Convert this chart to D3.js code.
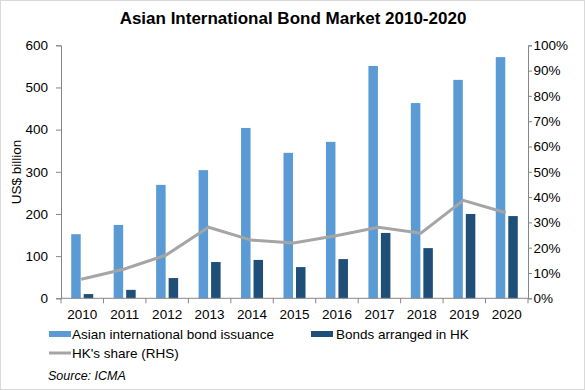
<!DOCTYPE html>
<html><head><meta charset="utf-8">
<script src="https://cdn.jsdelivr.net/npm/d3@7"></script>
<style>body{margin:0;background:#fff}svg{display:block}text{font-family:"Liberation Sans",Arial,sans-serif}</style>
</head><body>
<script>
const years = ["2010","2011","2012","2013","2014","2015","2016","2017","2018","2019","2020"];
const issuance = [152,174,269,304,404,345,371,551,463,518,572];
const hkArranged = [10,20,48,86,91,74,93,155,119,200,195];
const hkShare = [0.075,0.115,0.171,0.281,0.23,0.219,0.247,0.281,0.257,0.387,0.338];
const leftTicks = [0,100,200,300,400,500,600];
const rightTicks = [0,0.1,0.2,0.3,0.4,0.5,0.6,0.7,0.8,0.9,1.0];

const W=585,H=390;
const svg=d3.select("body").append("svg").attr("width",W).attr("height",H);
svg.append("rect").attr("x",0.5).attr("y",0.5).attr("width",W-1).attr("height",H-1).attr("fill","#fff").attr("stroke","#d9d9d9");

const L=61,R=528,T=45.3,B=298.3;
const x=d3.scaleBand().domain(years).range([L,R]);
const yL=d3.scaleLinear().domain([0,600]).range([B,T]);
const yR=d3.scaleLinear().domain([0,1]).range([B,T]);
const axisCol="#868686";

svg.append("text").attr("x",293).attr("y",24).attr("text-anchor","middle").attr("font-weight","bold").attr("font-size",17).text("Asian International Bond Market 2010-2020");

// bars
const bw=9.5;
svg.append("g").selectAll("rect").data(years).join("rect")
  .attr("x",d=>x(d)+x.bandwidth()/2-bw-1.5).attr("width",bw)
  .attr("y",(d,i)=>yL(issuance[i])).attr("height",(d,i)=>B-yL(issuance[i])).attr("fill","#5B9BD5");
svg.append("g").selectAll("rect").data(years).join("rect")
  .attr("x",d=>x(d)+x.bandwidth()/2+1.5).attr("width",bw)
  .attr("y",(d,i)=>yL(hkArranged[i])).attr("height",(d,i)=>B-yL(hkArranged[i])).attr("fill","#1F4E79");

// line
const line=d3.line().x((d,i)=>x(years[i])+x.bandwidth()/2-1).y(d=>yR(d));
svg.append("path").datum(hkShare).attr("d",line).attr("fill","none").attr("stroke","#A5A5A5").attr("stroke-width",3);

// axes
const gl=svg.append("g").attr("transform",`translate(${L},0)`).call(d3.axisLeft(yL).tickValues(leftTicks).tickSize(5).tickPadding(8));
const gr=svg.append("g").attr("transform",`translate(${R},0)`).call(d3.axisRight(yR).tickValues(rightTicks).tickSize(4).tickPadding(1.5).tickFormat(d3.format(".0%")));
const gx=svg.append("g").attr("transform",`translate(0,${B})`).call(d3.axisBottom(x).tickSize(0).tickPadding(11));
// category boundary ticks
svg.append("g").selectAll("line").data(d3.range(years.length+1)).join("line")
  .attr("x1",i=>L+i*x.step()).attr("x2",i=>L+i*x.step()).attr("y1",B).attr("y2",B+5).attr("stroke",axisCol);
[gl,gr,gx].forEach(g=>{
  g.select(".domain").attr("stroke",axisCol);
  g.selectAll(".tick line").attr("stroke",axisCol);
  g.selectAll("text").attr("font-size",13.5).attr("fill","#000").attr("font-family","Liberation Sans, Arial, sans-serif");
});
gx.select(".domain").attr("d",`M${L},0H${R}`);

svg.append("text").attr("transform","translate(21,172) rotate(-90)").attr("text-anchor","middle").attr("font-size",13.5).text("US$ billion");

// legend
const lg=svg.append("g").attr("font-size",13.5);
lg.append("rect").attr("x",49).attr("y",331).attr("width",22).attr("height",6).attr("fill","#5B9BD5");
lg.append("text").attr("x",72).attr("y",338.5).text("Asian international bond issuance");
lg.append("rect").attr("x",311).attr("y",331).attr("width",22).attr("height",6).attr("fill","#1F4E79");
lg.append("text").attr("x",336).attr("y",338.5).text("Bonds arranged in HK");
lg.append("line").attr("x1",49).attr("x2",71).attr("y1",353).attr("y2",353).attr("stroke","#A5A5A5").attr("stroke-width",3);
lg.append("text").attr("x",72).attr("y",358).text("HK's share (RHS)");
svg.append("text").attr("x",48).attr("y",380).attr("font-size",12.5).attr("font-style","italic").text("Source: ICMA");
</script>
</body></html>
